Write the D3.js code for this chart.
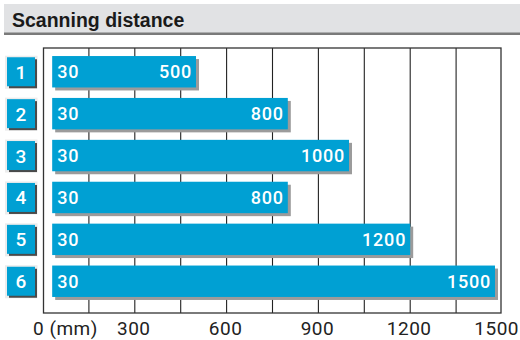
<!DOCTYPE html>
<html>
<head>
<meta charset="utf-8">
<script src="https://cdn.jsdelivr.net/npm/d3@7"></script>
<style>
  html, body { margin: 0; padding: 0; background: #fff; }
  svg { display: block; }
</style>
</head>
<body>
<script>
// Scanning distance ranges per sensor variant (mm)
const variants = ["1", "2", "3", "4", "5", "6"];
const minDistance = [30, 30, 30, 30, 30, 30];
const maxDistance = [500, 800, 1000, 800, 1200, 1500];
const tickValues = [0, 300, 600, 900, 1200, 1500];
const tickLabels = ["0 (mm)", "300", "600", "900", "1200", "1500"];
const gridValues = [150, 300, 450, 600, 750, 900, 1050, 1200, 1350];
const title = "Scanning distance";

const W = 520, H = 340;
const blue = "#00a0d3";
const svg = d3.select("body").append("svg").attr("width", W).attr("height", H);

const x = d3.scaleLinear().domain([0, 1500]).range([43, 502]);
const y = d3.scaleBand().domain(variants).range([50.8, 302.2])
  .paddingInner(0.25).paddingOuter(0.125);
const frameTop = 48, frameBottom = 313;

// Title bar
svg.append("rect").attr("x", 4).attr("y", 4).attr("width", W - 4).attr("height", 30)
  .attr("fill", "#e1e2e4");
svg.append("rect").attr("x", 4).attr("y", 32.5).attr("width", W - 4).attr("height", 2.5)
  .attr("fill", "#7a7a7a");
svg.append("text").attr("x", 12).attr("y", 26.5).text(title)
  .attr("font-family", "Liberation Sans, Arial, sans-serif")
  .attr("font-weight", "bold").attr("font-size", 19.5).attr("fill", "#1a1a1a");

// Grid lines
svg.append("g").selectAll("line").data(gridValues).join("line")
  .attr("x1", d => x(d)).attr("x2", d => x(d))
  .attr("y1", frameTop).attr("y2", frameBottom)
  .attr("stroke", "#222").attr("stroke-width", 1.1);

// Frame
svg.append("rect").attr("x", x(0) + 0.5).attr("y", frameTop)
  .attr("width", x(1500) - x(0) - 1.5).attr("height", frameBottom - frameTop)
  .attr("fill", "none").attr("stroke", "#333").attr("stroke-width", 1.3);

const rows = variants.map((v, i) => ({ v, lo: minDistance[i], hi: maxDistance[i] }));
const barEnd = d => Math.min(x(d.hi), x(1500) - 7);

// Bar shadows
svg.append("g").selectAll("rect").data(rows).join("rect")
  .attr("x", d => x(d.lo) + 3).attr("y", d => y(d.v) + 3)
  .attr("width", d => barEnd(d) - x(d.lo)).attr("height", y.bandwidth())
  .attr("fill", "#9b9b9b");

// Bars
svg.append("g").selectAll("rect").data(rows).join("rect")
  .attr("x", d => x(d.lo)).attr("y", d => y(d.v))
  .attr("width", d => barEnd(d) - x(d.lo)).attr("height", y.bandwidth())
  .attr("fill", blue);

const numFont = "Roboto, Liberation Sans, Arial, sans-serif";

// Lower limit labels
svg.append("g").selectAll("text").data(rows).join("text")
  .attr("x", d => x(d.lo) + 5).attr("y", d => y(d.v) + y.bandwidth() / 2 + 6.5)
  .text(d => d.lo)
  .attr("font-family", numFont).attr("font-weight", 500).attr("font-size", 18)
  .attr("letter-spacing", 0.8).attr("fill", "#fff");

// Upper limit labels
svg.append("g").selectAll("text").data(rows).join("text")
  .attr("x", d => barEnd(d) - 4).attr("y", d => y(d.v) + y.bandwidth() / 2 + 6.5)
  .attr("text-anchor", "end")
  .text(d => d.hi)
  .attr("font-family", numFont).attr("font-weight", 500).attr("font-size", 18)
  .attr("letter-spacing", 0.8).attr("fill", "#fff");

// Variant number buttons
const btn = svg.append("g").selectAll("g").data(rows).join("g")
  .attr("transform", d => `translate(0, ${y(d.v) + y.bandwidth() / 2})`);
btn.append("rect").attr("x", 5).attr("y", -16).attr("width", 32.5).attr("height", 33)
  .attr("fill", "#ececec");
btn.append("rect").attr("x", 9).attr("y", -12.5).attr("width", 28).attr("height", 29)
  .attr("fill", "#4a4a4a");
btn.append("rect").attr("x", 7).attr("y", -14.5).attr("width", 28).attr("height", 29)
  .attr("fill", blue);
btn.append("text").attr("x", 21).attr("y", 7).attr("text-anchor", "middle")
  .text(d => d.v)
  .attr("font-family", numFont).attr("font-weight", 500).attr("font-size", 19)
  .attr("fill", "#fff");

// Axis tick labels
svg.append("g").selectAll("text").data(tickValues).join("text")
  .attr("x", (d, i) => i === 0 ? x(d) - 10 : (i === tickValues.length - 1 ? W - 1 : x(d) - 1))
  .attr("y", 334.5)
  .attr("text-anchor", (d, i) => i === 0 ? "start" : (i === tickValues.length - 1 ? "end" : "middle"))
  .text((d, i) => tickLabels[i])
  .attr("font-family", numFont).attr("font-size", 19).attr("letter-spacing", 0.5)
  .attr("fill", "#222");
</script>
</body>
</html>
